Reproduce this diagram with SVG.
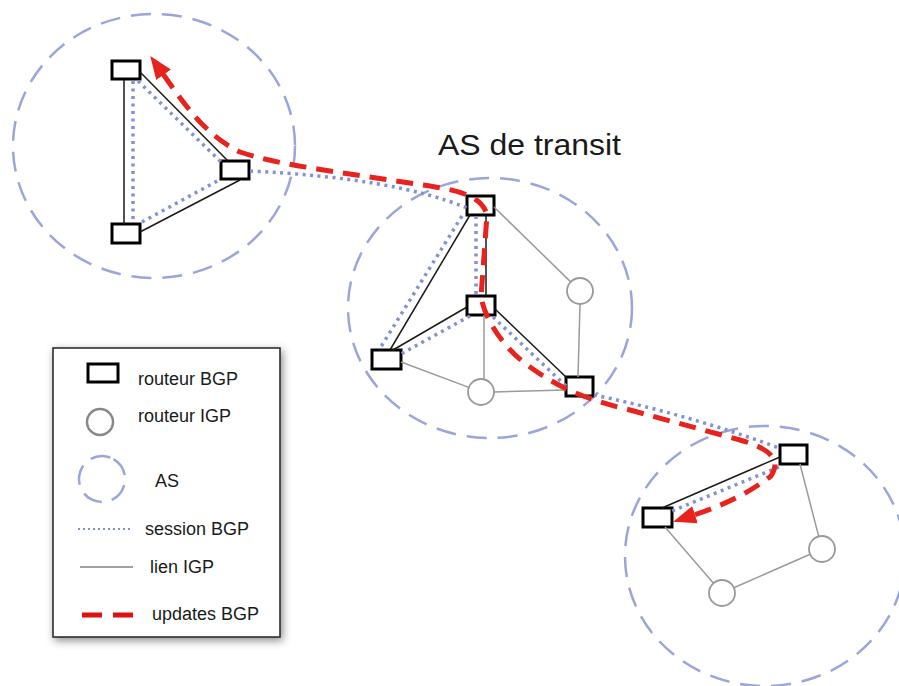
<svg xmlns="http://www.w3.org/2000/svg" width="899" height="686" viewBox="0 0 899 686">
<style>
.as{fill:none;stroke:#9ba5da;stroke-width:2.5;stroke-dasharray:20 11}
.bgp{fill:#fff;stroke:#000;stroke-width:3}
.igp{fill:#fff;stroke:#999;stroke-width:1.8}
.lk{stroke:#1a1a1a;stroke-width:1.5;fill:none}
.gl{stroke:#9a9a9a;stroke-width:1.5;fill:none}
.ses{stroke:#8391d4;stroke-width:3.5;stroke-dasharray:3 4.5;fill:none}
.upd{stroke:#e8231e;stroke-width:5;stroke-dasharray:17 10;fill:none}
.t{font-family:"Liberation Sans",Arial,sans-serif;fill:#1a1a1a}
</style>
<defs>
<marker id="arr" markerUnits="userSpaceOnUse" markerWidth="24" markerHeight="20" viewBox="0 0 24 20" refX="1" refY="10" orient="auto-start-reverse">
<path d="M0,1 L23,10 L0,19 z" fill="#e8231e"/>
</marker>
<filter id="sh" x="-10%" y="-10%" width="125%" height="125%">
<feDropShadow dx="2" dy="3" stdDeviation="4" flood-color="#000" flood-opacity="0.45"/>
</filter>
</defs>
<rect width="899" height="686" fill="#fff"/>

<g id="as-left"><ellipse class="as" cx="154" cy="146" rx="141" ry="132"/></g>
<g id="as-transit"><ellipse class="as" cx="490" cy="308" rx="142" ry="130"/>
<text class="t" x="438" y="155" font-size="29" textLength="183" lengthAdjust="spacingAndGlyphs">AS de transit</text></g>
<g id="as-right"><ellipse class="as" cx="765" cy="556" rx="140" ry="130"/></g>

<g id="legend">
<rect x="53" y="348" width="227" height="289" fill="#fff" stroke="#222" stroke-width="1.5" filter="url(#sh)"/>
<rect class="bgp" x="88" y="364" width="30" height="18"/>
<text class="t" x="138" y="385" font-size="18">routeur BGP</text>
<circle cx="100" cy="422" r="13" fill="none" stroke="#888" stroke-width="2.5"/>
<text class="t" x="138" y="422" font-size="18">routeur IGP</text>
<circle cx="102" cy="479" r="23" fill="none" stroke="#9ba5da" stroke-width="2.5" stroke-dasharray="20 10" transform="rotate(-60 102 479)"/>
<text class="t" x="155" y="487" font-size="18">AS</text>
<line x1="78" y1="529" x2="132" y2="529" stroke="#8391d4" stroke-width="2" stroke-dasharray="2 3"/>
<text class="t" x="145" y="535" font-size="18">session BGP</text>
<line x1="80" y1="567" x2="133" y2="567" stroke="#444" stroke-width="1"/>
<text class="t" x="150" y="573" font-size="18">lien IGP</text>
<line x1="82" y1="615" x2="133" y2="615" stroke="#e01010" stroke-width="5" stroke-dasharray="20 11"/>
<text class="t" x="152" y="620" font-size="18">updates BGP</text>
</g>

<g id="L1"><rect class="bgp" x="112" y="61" width="28" height="18"/></g>
<g id="L2"><rect class="bgp" x="221" y="161" width="28" height="18"/></g>
<g id="L3"><rect class="bgp" x="112" y="224" width="28" height="19"/></g>
<g id="T1"><rect class="bgp" x="467" y="196" width="27" height="19"/></g>
<g id="T2"><rect class="bgp" x="467" y="296" width="28" height="19"/></g>
<g id="T3"><rect class="bgp" x="372" y="350" width="29" height="19"/></g>
<g id="T4"><rect class="bgp" x="566" y="377" width="27" height="19"/></g>
<g id="TA"><circle class="igp" cx="580" cy="291" r="13"/></g>
<g id="TB"><circle class="igp" cx="481" cy="392" r="13"/></g>
<g id="R1"><rect class="bgp" x="780" y="445" width="27" height="19"/></g>
<g id="R2"><rect class="bgp" x="643" y="508" width="29" height="19"/></g>
<g id="RC"><circle class="igp" cx="822" cy="549" r="13"/></g>
<g id="RD"><circle class="igp" cx="722" cy="593" r="13"/></g>

<g id="connectors">
<line class="lk" x1="124" y1="80" x2="124" y2="224"/>
<line class="lk" x1="140" y1="72" x2="228" y2="161"/>
<line class="lk" x1="140" y1="232" x2="240" y2="180"/>
<line class="lk" x1="486" y1="215" x2="486" y2="296"/>
<line class="lk" x1="470" y1="215" x2="390" y2="350"/>
<line class="lk" x1="467" y1="307" x2="393" y2="350"/>
<line class="lk" x1="495" y1="309" x2="567" y2="378"/>
<line class="lk" x1="780" y1="457" x2="662" y2="508"/>
<line class="gl" x1="494" y1="207" x2="570.7" y2="281.9"/>
<line class="gl" x1="580" y1="304" x2="578" y2="377"/>
<line class="gl" x1="484" y1="315" x2="484" y2="379.4"/>
<line class="gl" x1="401" y1="362" x2="468.8" y2="387.4"/>
<line class="gl" x1="494" y1="392" x2="566" y2="390"/>
<line class="gl" x1="800" y1="464" x2="818.7" y2="536.4"/>
<line class="gl" x1="810.1" y1="554.2" x2="733.9" y2="587.8"/>
<line class="gl" x1="713.5" y1="583.2" x2="665" y2="527"/>
<line class="ses" x1="133" y1="81" x2="133" y2="223"/>
<line class="ses" x1="138" y1="81" x2="222" y2="163"/>
<line class="ses" x1="142" y1="222" x2="221" y2="179"/>
<path class="ses" d="M250,171 Q395,178 467,208"/>
<line class="ses" x1="476" y1="216" x2="476" y2="295"/>
<line class="ses" x1="462" y1="216" x2="379" y2="350"/>
<line class="ses" x1="470" y1="316" x2="401" y2="354"/>
<line class="ses" x1="493" y1="317" x2="566" y2="386"/>
<path class="ses" d="M594,395 Q690,415 779,448"/>
<line class="ses" x1="779" y1="467" x2="672" y2="511"/>
<path class="upd" marker-start="url(#arr)" marker-end="url(#arr)" d="M163,74 C185,105 205,135 240,152 C270,162 300,166 330,171 L430,186 C460,191 482,196 487,215 L481,297 C485,320 505,350 530,367 C555,385 580,398 630,410 L740,440 C775,450 780,462 771,476 Q740,500 694,515"/>
</g>
</svg>
